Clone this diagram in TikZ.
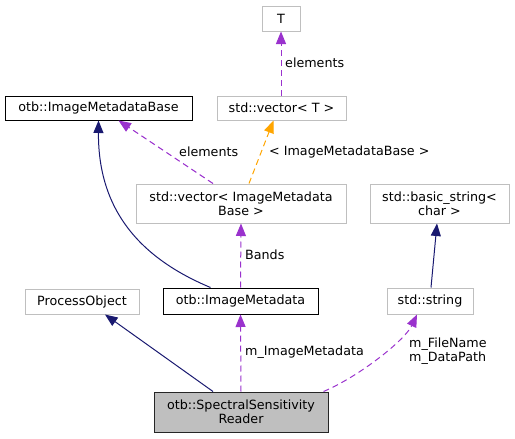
\documentclass[tikz,border=0pt]{standalone}
\usepackage{fontspec}
\setmainfont{DejaVu Sans}
\usetikzlibrary{arrows.meta}
\definecolor{edgegray}{HTML}{BFBFBF}
\definecolor{navyc}{HTML}{191970}
\definecolor{purplec}{HTML}{9A32CD}
\definecolor{orangec}{HTML}{FFA500}
\tikzset{
  every node/.style={font=\fontsize{12.7}{14}\selectfont, inner sep=0pt},
  extbox/.style={draw=edgegray, line width=1pt, fill=white, align=center},
  docbox/.style={draw=black, line width=1pt, fill=white, align=center},
  curbox/.style={draw=black!85, line width=1pt, fill=edgegray, align=center},
  inh/.style={draw=navyc, line width=1pt, -{Triangle[length=12.5pt,width=10pt]}},
  usage/.style={draw=purplec, line width=1pt, dash pattern=on 6pt off 4pt, -{Triangle[length=12.5pt,width=10pt]}},
  tmpl/.style={draw=orangec, line width=1pt, dash pattern=on 6pt off 4pt, -{Triangle[length=12.5pt,width=10pt]}},
  lbl/.style={anchor=west, align=left}
}
\begin{document}
\begin{tikzpicture}[x=1pt, y=-1pt]
\useasboundingbox (0,0) rectangle (515,439);
% nodes
\node[extbox, minimum width=38pt, minimum height=25pt] (T) at (281,18.5) {T};
\node[extbox, minimum width=129pt, minimum height=24pt] (vecT) at (281.5,108) {std::vector< T >};
\node[docbox, minimum width=187pt, minimum height=24pt] (IMB) at (98.5,108) {otb::ImageMetadataBase};
\node[extbox, minimum width=210pt, minimum height=39pt] (vecIMB) at (241,203.5) {std::vector< ImageMetadata\\Base >};
\node[extbox, minimum width=139pt, minimum height=39pt] (bstr) at (439.5,203.5) {std::basic\_string<\\char >};
\node[extbox, minimum width=114pt, minimum height=25pt] (PO) at (82,301.5) {ProcessObject};
\node[docbox, minimum width=155pt, minimum height=26pt] (IM) at (240.5,301) {otb::ImageMetadata};
\node[extbox, minimum width=86pt, minimum height=26pt] (str) at (430,301) {std::string};
\node[curbox, minimum width=174pt, minimum height=40pt] (R) at (241,412) {otb::SpectralSensitivity\\Reader};
% edges
\draw[usage] (vecT.north -| T.south) -- (T.south);
\draw[usage] ([xshift=-28pt]vecIMB.north) -- ([xshift=20pt]IMB.south);
\draw[tmpl] ([xshift=8pt]vecIMB.north) -- ([xshift=-8pt]vecT.south);
\draw[inh] ([xshift=-30pt]IM.north) .. controls (140,258) and (98,210) .. (IMB.south);
\draw[usage] (IM.north) -- (vecIMB.south);
\draw[inh] ([xshift=1pt]str.north) -- ([xshift=-2.5pt]bstr.south);
\draw[inh] ([xshift=-28pt]R.north) -- ([xshift=23pt]PO.south);
\draw[usage] (R.north) -- (IM.south);
\draw[usage] ([xshift=-5pt]R.north east) .. controls (360,376) and (405,340) .. ([xshift=-13pt]str.south);
% labels
\node[lbl] (l1) at (285,62.5) {elements};
\node[lbl] (l2) at (179,151.5) {elements};
\node[lbl] (l3) at (269,151.5) {< ImageMetadataBase >};
\node[lbl] (l4) at (245,255) {Bands};
\node[lbl] (l5) at (245,352) {m\_ImageMetadata};
\node[lbl] (l6) at (409,351.5) {m\_FileName\\m\_DataPath};
\end{tikzpicture}
\end{document}
